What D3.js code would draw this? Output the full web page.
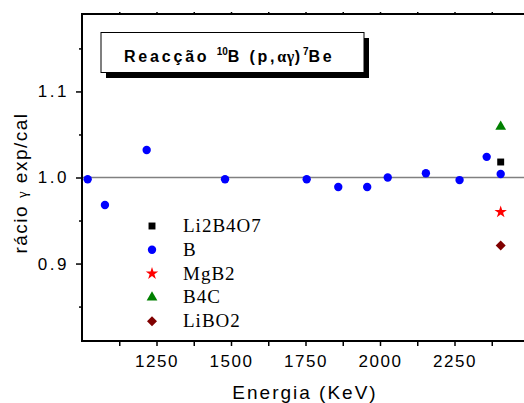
<!DOCTYPE html>
<html>
<head>
<meta charset="utf-8">
<script src="https://cdn.jsdelivr.net/npm/d3@7"></script>
<style>
body { margin: 0; background: #fff; }
svg { display: block; }
</style>
</head>
<body>
<div class="visHolder"></div>
<script>
var width = 524
var height = 403

// data
var energyB = [1019, 1077, 1217, 1480, 1754, 1860, 1957, 2026, 2154, 2267, 2358, 2405]
var ratioB = [0.998, 0.968, 1.032, 0.998, 0.998, 0.989, 0.989, 1.000, 1.005, 0.997, 1.024, 1.004]
var energyOther = [2405]
var ratioLi2B4O7 = [1.018]
var ratioMgB2 = [0.960]
var ratioB4C = [1.059]
var ratioLiBO2 = [0.921]

var xTicks = [1250, 1500, 1750, 2000, 2250]
var xMinor = [1125, 1375, 1625, 1875, 2125, 2375]
var yTicks = [0.9, 1.0, 1.1]
var yMinor = [0.85, 0.95, 1.05, 1.15]
var legendNames = ["Li2B4O7", "B", "MgB2", "B4C", "LiBO2"]

var series = [
    { name: "Li2B4O7", x: energyOther, y: ratioLi2B4O7, shape: d3.symbolSquare, size: 48, color: "#000000", rot: 0 },
    { name: "B", x: energyB, y: ratioB, shape: d3.symbolCircle, size: 55, color: "#0000ff", rot: 0 },
    { name: "MgB2", x: energyOther, y: ratioMgB2, shape: d3.symbolStar, size: 48, color: "#ff0000", rot: 0 },
    { name: "B4C", x: energyOther, y: ratioB4C, shape: d3.symbolTriangle, size: 50, color: "#008000", rot: 0 },
    { name: "LiBO2", x: energyOther, y: ratioLiBO2, shape: d3.symbolSquare, size: 50, color: "#800000", rot: 45 }
]

var svg = d3.select('.visHolder')
    .append('svg')
    .attr('width', width)
    .attr('height', height)

var xScale = d3.scaleLinear()
    .domain([1000, 2500])
    .range([82, 529])

var yScale = d3.scaleLinear()
    .domain([0.81, 1.19])
    .range([341, 14])

// reference line at 1.0
svg.append("line")
    .attr("x1", xScale(1000)).attr("x2", xScale(2500))
    .attr("y1", yScale(1)).attr("y2", yScale(1))
    .style("stroke", "#808080")
    .style("stroke-width", 1.5)

// axes
var axisFont = "Arial, 'Liberation Sans', sans-serif"

var xAxis = svg.append("g")
    .attr("transform", "translate(0,341)")
    .call(d3.axisBottom(xScale).tickValues(xTicks).tickFormat(d3.format("d")).tickSize(5).tickPadding(9))
xAxis.select(".domain").remove()
xAxis.selectAll("line").style("stroke-width", 1.5)
xAxis.selectAll("text")
    .style("font-family", axisFont)
    .style("font-size", "17px")
    .style("letter-spacing", "1.6px")
    .attr("fill", "#000")

svg.append("g")
    .attr("transform", "translate(0,341)")
    .call(d3.axisBottom(xScale).tickValues(xMinor).tickFormat("").tickSize(5))
    .call(g => g.select(".domain").remove())
    .selectAll("line").style("stroke-width", 1.5)

svg.append("g")
    .attr("transform", "translate(0,14)")
    .call(d3.axisTop(xScale).tickValues(xTicks.concat(xMinor)).tickFormat("").tickSize(2))
    .call(g => g.select(".domain").remove())
    .selectAll("line").style("stroke-width", 1.5)

var yAxis = svg.append("g")
    .attr("transform", "translate(82,0)")
    .call(d3.axisLeft(yScale).tickValues(yTicks).tickFormat(d3.format(".1f")).tickSize(6).tickPadding(7))
yAxis.select(".domain").remove()
yAxis.selectAll("line").style("stroke-width", 1.5)
yAxis.selectAll("text")
    .style("font-family", axisFont)
    .style("font-size", "17px")
    .style("letter-spacing", "2.5px")
    .attr("fill", "#000")

svg.append("g")
    .attr("transform", "translate(82,0)")
    .call(d3.axisLeft(yScale).tickValues(yMinor).tickFormat("").tickSize(3))
    .call(g => g.select(".domain").remove())
    .selectAll("line").style("stroke-width", 1.5)

// frame
svg.append("rect")
    .attr("x", xScale(1000))
    .attr("y", yScale(1.19))
    .attr("width", xScale(2500) - xScale(1000))
    .attr("height", yScale(0.81) - yScale(1.19))
    .style("fill", "none")
    .style("stroke", "#000")
    .style("stroke-width", 2)

// points
series.forEach(function(s) {
    svg.append("g").selectAll("path")
        .data(s.x.map((d, i) => [d, s.y[i]]))
        .enter()
        .append("path")
        .attr("d", d3.symbol().type(s.shape).size(s.size))
        .attr("transform", d => `translate(${xScale(d[0])},${yScale(d[1])}) rotate(${s.rot})`)
        .style("fill", s.color)
})

// legend
var legend = svg.append("g")
series.forEach(function(s, i) {
    var ly = 226 + i * 23.8
    legend.append("path")
        .attr("d", d3.symbol().type(s.shape).size(s.size))
        .attr("transform", `translate(152,${ly}) rotate(${s.rot})`)
        .style("fill", s.color)
    legend.append("text")
        .attr("x", 183)
        .attr("y", ly + 6)
        .style("font-family", "'Times New Roman', 'Liberation Serif', serif")
        .style("font-size", "19px")
        .style("letter-spacing", "1px")
        .text(legendNames[i])
})

// title box
svg.append("rect")
    .attr("x", 106).attr("y", 38)
    .attr("width", 263).attr("height", 40)
    .style("fill", "#000")
svg.append("rect")
    .attr("x", 101).attr("y", 32.5)
    .attr("width", 263).attr("height", 40)
    .style("fill", "#fff")
    .style("stroke", "#000")
    .style("stroke-width", 1)

var title = svg.append("text")
    .attr("x", 124)
    .attr("y", 62)
    .style("font-family", axisFont)
    .style("font-weight", "bold")
    .style("font-size", "16px")
    .style("letter-spacing", "2.8px")
title.append("tspan").text("Reacção ")
title.append("tspan").attr("dy", -7).style("font-size", "10px").style("letter-spacing", "0px").text("10")
title.append("tspan").attr("dy", 7).text("B (p,")
title.append("tspan").style("font-family", "'Times New Roman', 'Liberation Serif', serif").style("letter-spacing", "0.5px").text("αγ")
title.append("tspan").text(")")
title.append("tspan").attr("dy", -7).style("font-size", "10px").style("letter-spacing", "0px").text("7")
title.append("tspan").attr("dy", 7).text("Be")

// axis titles
svg.append("text")
    .attr("x", 305)
    .attr("y", 399)
    .attr("text-anchor", "middle")
    .style("font-family", axisFont)
    .style("font-size", "19px")
    .style("letter-spacing", "2px")
    .text("Energia (KeV)")

var yLabel = svg.append("text")
    .attr("transform", "translate(27,183) rotate(-90)")
    .attr("text-anchor", "middle")
    .style("font-family", axisFont)
    .style("font-size", "19px")
    .style("letter-spacing", "1.5px")
yLabel.append("tspan").text("rácio ")
yLabel.append("tspan").style("font-family", "'Times New Roman', 'Liberation Serif', serif").style("font-size", "15px").text("γ")
yLabel.append("tspan").text(" exp/cal")
</script>
</body>
</html>
